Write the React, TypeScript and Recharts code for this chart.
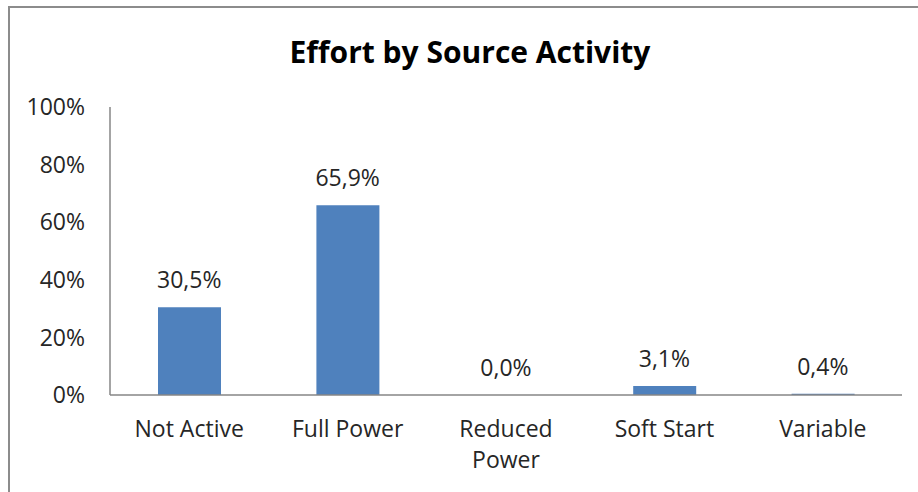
import React from "react";
import { ComposedChart, Bar, Line, XAxis, YAxis, LabelList } from "recharts";

// Share of effort spent in each source activity state (percent)
const categories = ["Not Active", "Full Power", "Reduced Power", "Soft Start", "Variable"];
const shares = [30.5, 65.9, 0.0, 3.1, 0.4];
const yTicks = [0, 20, 40, 60, 80, 100];

const fmtPct = (v: number) => `${v.toFixed(1).replace(".", ",")}%`;

const data = categories.map((name, i) => ({
  name,
  share: shares[i],
  shareLabel: fmtPct(shares[i]),
}));

const FONT = "'Open Sans', sans-serif";
const TEXT = "#262626";
const AXIS = "#868686";
const BAR = "#4F81BD";
const TICK_SIZE = 23;
const LINE_HEIGHT = 31;
const MAX_CHARS = 11;

// Greedy word wrap for category names that are too long for one line
const wrapWords = (label: string) => {
  const lines: string[] = [];
  let current = "";
  for (const word of label.split(" ")) {
    const next = current ? `${current} ${word}` : word;
    if (current && next.length > MAX_CHARS) {
      lines.push(current);
      current = word;
    } else {
      current = next;
    }
  }
  if (current) lines.push(current);
  return lines;
};

const CategoryTick = (props: any) => {
  const { x, y, payload } = props;
  const lines = wrapWords(String(payload.value));
  return (
    <text
      x={x}
      y={y}
      textAnchor="middle"
      fontFamily={FONT}
      fontSize={TICK_SIZE}
      fill={TEXT}
    >
      {lines.map((line, i) => (
        <tspan key={i} x={x} dy={i === 0 ? "0.71em" : LINE_HEIGHT}>
          {line}
        </tspan>
      ))}
    </text>
  );
};

export default function App() {
  return (
    <div
      style={{
        position: "fixed",
        left: 0,
        top: 0,
        width: 918,
        height: 492,
        overflow: "hidden",
        background: "#fff",
      }}
    >
      <div
        style={{
          position: "absolute",
          left: 8,
          top: 6,
          width: 1000,
          height: 600,
          borderLeft: "2px solid #8c8c8c",
          borderTop: "2px solid #8c8c8c",
        }}
      />
      <div
        style={{
          position: "absolute",
          left: 0,
          top: 30,
          width: 940,
          textAlign: "center",
          fontFamily: FONT,
          fontWeight: 700,
          fontSize: 30,
          color: "#000",
          lineHeight: "44px",
        }}
      >
        Effort by Source Activity
      </div>
      <div style={{ position: "absolute", left: 0, top: 0 }}>
        <ComposedChart
          width={918}
          height={492}
          data={data}
          margin={{ top: 107, right: 16, bottom: 27, left: 0 }}
          barSize={63}
        >
          <XAxis
            dataKey="name"
            height={70}
            tickLine={false}
            axisLine={{ stroke: AXIS, strokeWidth: 1.5 }}
            tickSize={0}
            tickMargin={26}
            interval={0}
            tick={<CategoryTick />}
          />
          <YAxis
            width={110}
            domain={[0, 100]}
            ticks={yTicks}
            tickFormatter={(v: number) => `${v}%`}
            tickLine={false}
            axisLine={{ stroke: AXIS, strokeWidth: 1.5 }}
            tickSize={0}
            tickMargin={25}
            tick={{ fontFamily: FONT, fontSize: TICK_SIZE, fill: TEXT }}
          />
          <Bar dataKey="share" fill={BAR} isAnimationActive={false} />
          {/* value labels sit on an invisible series so zero values get one too */}
          <Line
            dataKey="share"
            stroke="none"
            dot={false}
            activeDot={false}
            isAnimationActive={false}
          >
            <LabelList
              dataKey="shareLabel"
              position="top"
              offset={19}
              style={{ fontFamily: FONT, fontSize: TICK_SIZE, fill: TEXT }}
            />
          </Line>
        </ComposedChart>
      </div>
    </div>
  );
}
